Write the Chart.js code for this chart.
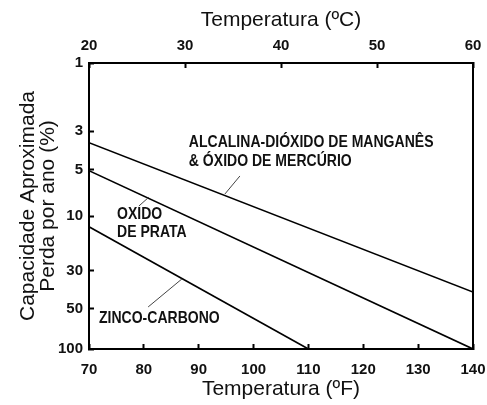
<!DOCTYPE html>
<html>
<head>
<meta charset="utf-8">
<script src="https://cdn.jsdelivr.net/npm/chart.js@4.4.1/dist/chart.umd.min.js"></script>
<style>
  body { margin: 0; background: #fff; }
  canvas { display: block; }
</style>
</head>
<body>
<canvas id="chartArea" width="487" height="405"></canvas>
<script>
// loss per year (%), x in degrees F
var alkalineTemps = [70, 140];
var alkalineLoss = [3.5, 40];
var silverTemps = [70, 140];
var silverLoss = [5.1, 100];
var zincTemps = [70, 110];
var zincLoss = [12.4, 100];

var yTickValues = [1, 3, 5, 10, 30, 50, 100];
var fahrenheitRange = [70, 140];
var celsiusRange = [20, 60];

var plain = "'Liberation Sans', Arial, sans-serif";
var tickFont = { family: plain, size: 15, weight: 'bold' };

// y scale of the original is log-like but unevenly spaced between ticks,
// so ticks sit at given fractions and values are log-interpolated between them
class StretchedLogScale extends Chart.LinearScale {
    determineDataLimits() {
        var t = this.options.tickValues;
        this.min = t[0];
        this.max = t[t.length - 1];
    }
    buildTicks() {
        return this.options.tickValues.map(v => ({ value: v }));
    }
    toFraction(value) {
        var t = this.options.tickValues, f = this.options.tickFractions;
        for (var i = 0; i < t.length - 1; i++) {
            if (value <= t[i + 1] || i === t.length - 2) {
                var k = (Math.log(value) - Math.log(t[i])) / (Math.log(t[i + 1]) - Math.log(t[i]));
                return f[i] + k * (f[i + 1] - f[i]);
            }
        }
    }
    getPixelForValue(value) {
        if (value === null || value === undefined || isNaN(value)) return NaN;
        return this.getPixelForDecimal(this.toFraction(value));
    }
    getValueForPixel(pixel) {
        var d = this.getDecimalForPixel(pixel);
        var t = this.options.tickValues, f = this.options.tickFractions;
        for (var i = 0; i < t.length - 1; i++) {
            if (d <= f[i + 1] || i === t.length - 2) {
                var k = (d - f[i]) / (f[i + 1] - f[i]);
                return Math.exp(Math.log(t[i]) + k * (Math.log(t[i + 1]) - Math.log(t[i])));
            }
        }
    }
}
StretchedLogScale.id = 'stretchedLog';
StretchedLogScale.defaults = Chart.LinearScale.defaults;
Chart.register(StretchedLogScale);

function points(xs, ys) {
    return xs.map((x, i) => ({ x: x, y: ys[i] }));
}

var framePlugin = {
    id: 'frame',
    afterDatasetsDraw(chart) {
        var ctx = chart.ctx, a = chart.chartArea;
        ctx.save();
        ctx.strokeStyle = '#000';
        ctx.lineWidth = 2;
        ctx.strokeRect(a.left, a.top, a.right - a.left, a.bottom - a.top);
        ctx.restore();
    }
};

// curve names with their leader lines, placed as fractions of the plot area
var notesPlugin = {
    id: 'notes',
    afterDraw(chart, args, opts) {
        var ctx = chart.ctx, a = chart.chartArea;
        var w = a.right - a.left, h = a.bottom - a.top;
        ctx.save();
        ctx.strokeStyle = '#444';
        ctx.lineWidth = 1;
        opts.leaders.forEach(l => {
            ctx.beginPath();
            ctx.moveTo(a.left + l[0] * w, a.top + l[1] * h);
            ctx.lineTo(a.left + l[2] * w, a.top + l[3] * h);
            ctx.stroke();
        });
        ctx.fillStyle = '#111';
        ctx.font = 'bold 16.5px ' + plain;
        ctx.textAlign = 'left';
        ctx.textBaseline = 'middle';
        opts.labels.forEach(n => {
            n.lines.forEach((line, i) => {
                ctx.save();
                ctx.translate(a.left + n.x * w, a.top + n.y * h + i * 18.5);
                ctx.scale(0.85, 1); // narrow face
                ctx.fillText(line, 0, 0);
                ctx.restore();
            });
        });
        ctx.restore();
    }
};

var ctx = document.getElementById('chartArea').getContext('2d');
var lineStyle = { borderColor: '#000', borderWidth: 1.6, pointRadius: 0, fill: false, tension: 0 };

function fixPad(s) {
    s.paddingLeft = 0;
    s.paddingRight = 14;
}

var myChart = new Chart(ctx, {
    type: 'line',
    data: {
        datasets: [
            Object.assign({ label: 'Alcalina', data: points(alkalineTemps, alkalineLoss) }, lineStyle),
            Object.assign({ label: 'Óxido de prata', data: points(silverTemps, silverLoss) }, lineStyle),
            Object.assign({ label: 'Zinco-carbono', data: points(zincTemps, zincLoss) }, lineStyle)
        ]
    },
    options: {
        responsive: false,
        animation: false,
        devicePixelRatio: 1,
        layout: { padding: 0 },
        plugins: {
            legend: { display: false },
            tooltip: { enabled: false },
            notes: {
                labels: [
                    { lines: ['ALCALINA-DIÓXIDO DE MANGANÊS', '& ÓXIDO DE MERCÚRIO'], x: 0.26, y: 0.278 },
                    { lines: ['OXIDO', 'DE PRATA'], x: 0.073, y: 0.528 },
                    { lines: ['ZINCO-CARBONO'], x: 0.026, y: 0.892 }
                ],
                leaders: [
                    [0.354, 0.458, 0.393, 0.395],
                    [0.130, 0.500, 0.156, 0.469],
                    [0.154, 0.853, 0.242, 0.755]
                ]
            }
        },
        scales: {
            x: {
                type: 'linear',
                position: 'bottom',
                min: fahrenheitRange[0],
                max: fahrenheitRange[1],
                afterFit: s => { s.height = 56; fixPad(s); },
                ticks: { stepSize: 10, padding: 17, color: '#111', font: tickFont },
                grid: { drawOnChartArea: false, tickLength: -5, tickWidth: 2, tickColor: '#000' },
                border: { color: '#000', width: 2 },
                title: { display: true, text: 'Temperatura (ºF)', color: '#111', font: { family: plain, size: 21 }, padding: { top: 0, bottom: 3 } }
            },
            x2: {
                type: 'linear',
                position: 'top',
                min: celsiusRange[0],
                max: celsiusRange[1],
                afterFit: s => { s.height = 63; fixPad(s); },
                ticks: { stepSize: 10, padding: 13, color: '#111', font: tickFont },
                grid: { drawOnChartArea: false, tickLength: -5, tickWidth: 2, tickColor: '#000' },
                border: { color: '#000', width: 2 },
                title: { display: true, text: 'Temperatura (ºC)', color: '#111', font: { family: plain, size: 21 }, padding: { top: 8, bottom: 0 } }
            },
            y: {
                type: 'stretchedLog',
                position: 'left',
                reverse: true,
                tickValues: yTickValues,
                tickFractions: [0, 0.238, 0.372, 0.535, 0.727, 0.858, 1],
                afterFit: s => { s.width = 89; },
                ticks: { autoSkip: false, padding: 11, color: '#111', font: tickFont, callback: v => String(v) },
                grid: { drawOnChartArea: false, tickLength: -5, tickWidth: 2, tickColor: '#000' },
                border: { color: '#000', width: 2 },
                title: { display: true, text: ['Capacidade Aproximada', 'Perda por ano (%)'], color: '#111',
                         font: { family: plain, size: 21, lineHeight: 0.92 }, padding: { top: 19, bottom: 0 } }
            }
        }
    },
    plugins: [framePlugin, notesPlugin]
});
</script>
</body>
</html>
